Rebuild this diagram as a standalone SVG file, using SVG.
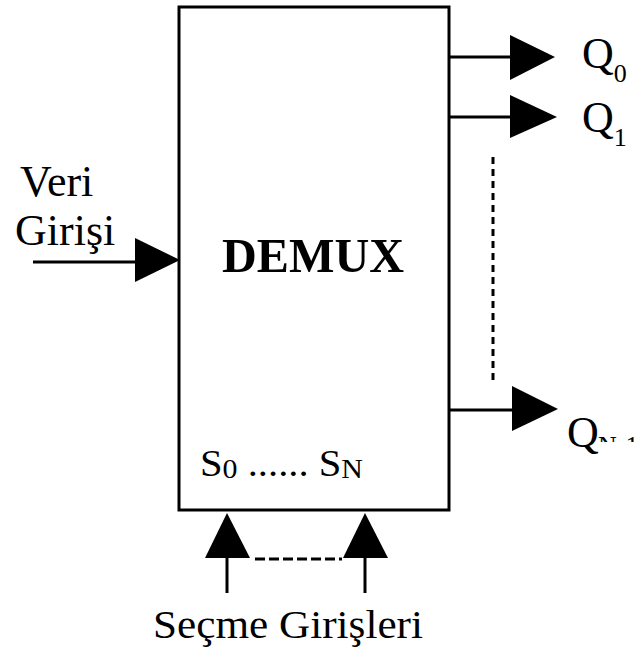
<svg xmlns="http://www.w3.org/2000/svg" width="638" height="649" viewBox="0 0 638 649">
<style>
.t{font-family:"Liberation Serif","Times New Roman",serif;fill:#000}
.ln{stroke:#000;stroke-width:3;fill:none}
.ah{fill:#000}
.dot{stroke:#000;stroke-width:3;fill:none;stroke-dasharray:7 5}
</style>
<defs>
<clipPath id="clipSub"><rect x="590" y="420" width="48" height="22"/></clipPath>
</defs>
<g id="demux">
<rect x="179" y="7" width="270" height="503" class="ln"/>
<text class="t" x="222" y="272" font-size="48" font-weight="bold" textLength="182" lengthAdjust="spacingAndGlyphs">DEMUX</text>
<text class="t" x="200" y="476" font-size="38" textLength="163" lengthAdjust="spacingAndGlyphs">S<tspan font-size="28" dy="2">0</tspan><tspan dy="-2"> ...... S</tspan><tspan font-size="28" dy="2">N</tspan></text>
</g>
<g id="veri">
<text class="t" x="20" y="196" font-size="44">Veri</text>
<text class="t" x="15" y="245" font-size="44">Girişi</text>
</g>
<g id="q0">
<text class="t" x="582" y="68" font-size="44">Q<tspan font-size="26" dy="14">0</tspan></text>
</g>
<g id="q1">
<text class="t" x="582" y="132" font-size="44">Q<tspan font-size="26" dy="14">1</tspan></text>
</g>
<g id="qn1">
<text class="t" x="567" y="447" font-size="44">Q</text>
<text class="t" x="598" y="454" font-size="26" clip-path="url(#clipSub)">N-1</text>
</g>
<g id="secme">
<text class="t" x="153" y="638" font-size="41" textLength="270" lengthAdjust="spacingAndGlyphs">Seçme Girişleri</text>
</g>
<g id="connectors">
<line x1="33" y1="262" x2="137" y2="262" class="ln"/>
<polygon points="135,238 180,260 135,282" class="ah"/>
<line x1="449" y1="57" x2="512" y2="57" class="ln"/>
<polygon points="510,35 555,57 510,80" class="ah"/>
<line x1="449" y1="117" x2="512" y2="117" class="ln"/>
<polygon points="510,95 557,117 510,138" class="ah"/>
<line x1="449" y1="410" x2="514" y2="410" class="ln"/>
<polygon points="512,386 558,409 512,431" class="ah"/>
<line x1="493" y1="157" x2="493" y2="383" class="dot"/>
<line x1="227" y1="556" x2="227" y2="593" class="ln"/>
<polygon points="205,558 227,513 250,558" class="ah"/>
<line x1="365" y1="556" x2="365" y2="593" class="ln"/>
<polygon points="343,558 365,513 388,558" class="ah"/>
<line x1="255" y1="559" x2="342" y2="559" class="ln" stroke-dasharray="10 4"/>
</g>
</svg>
